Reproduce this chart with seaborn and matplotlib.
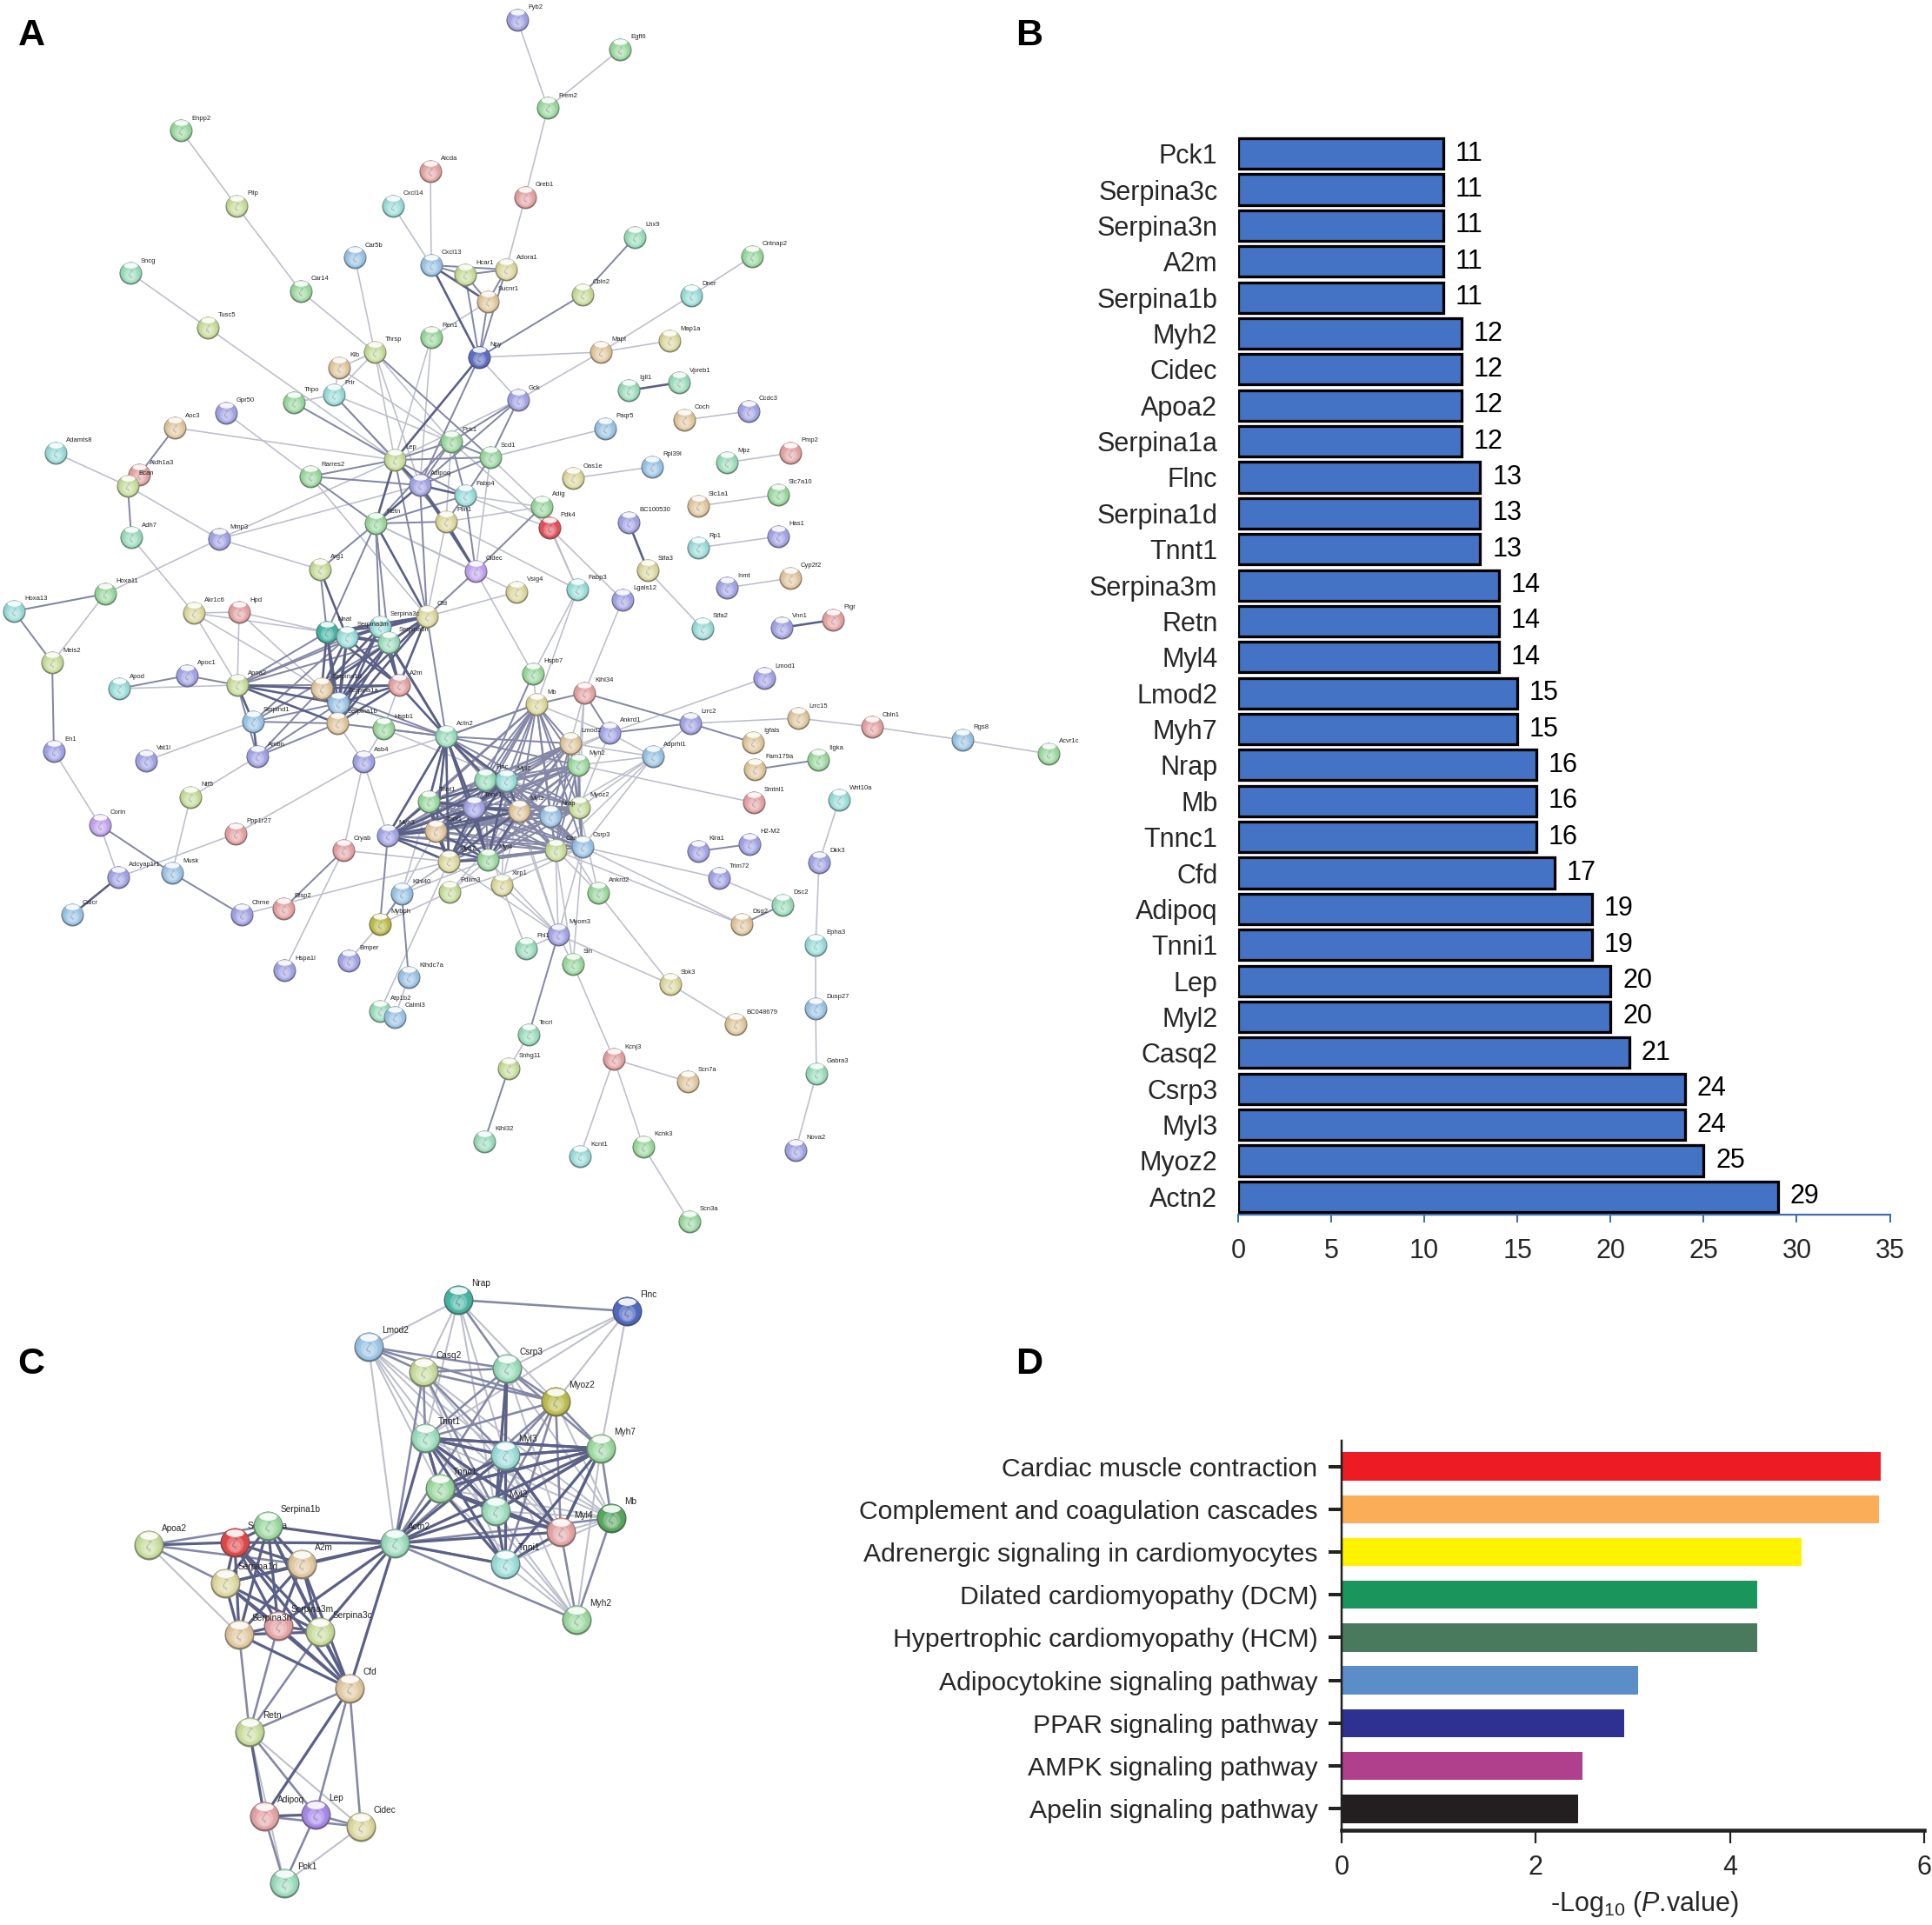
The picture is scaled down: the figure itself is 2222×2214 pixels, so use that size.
from itertools import combinations
import matplotlib
matplotlib.use("Agg")
import matplotlib.pyplot as plt
from matplotlib.collections import LineCollection
from matplotlib.colors import to_rgb
from matplotlib.path import Path
from matplotlib.transforms import Affine2D
import seaborn as sns

# panel B - node degree
degree_genes = ["Pck1", "Serpina3c", "Serpina3n", "A2m", "Serpina1b", "Myh2", "Cidec", "Apoa2", "Serpina1a", "Flnc",
                "Serpina1d", "Tnnt1", "Serpina3m", "Retn", "Myl4", "Lmod2", "Myh7", "Nrap", "Mb", "Tnnc1",
                "Cfd", "Adipoq", "Tnni1", "Lep", "Myl2", "Casq2", "Csrp3", "Myl3", "Myoz2", "Actn2"]
degree_vals = [11, 11, 11, 11, 11, 12, 12, 12, 12, 13,
               13, 13, 14, 14, 14, 15, 15, 16, 16, 16,
               17, 19, 19, 20, 20, 21, 24, 24, 25, 29]
degree_ticks = [0, 5, 10, 15, 20, 25, 30, 35]

# panel D - pathways
pathways = ["Cardiac muscle contraction", "Complement and coagulation cascades",
            "Adrenergic signaling in cardiomyocytes", "Dilated cardiomyopathy (DCM)",
            "Hypertrophic cardiomyopathy (HCM)", "Adipocytokine signaling pathway",
            "PPAR signaling pathway", "AMPK signaling pathway", "Apelin signaling pathway"]
pathway_vals = [5.55, 5.53, 4.74, 4.28, 4.28, 3.05, 2.91, 2.48, 2.44]
pathway_colors = ["#ed1c24", "#fbad58", "#fff200", "#1a955c", "#4a7a5e", "#5b8ec9", "#2e3192", "#b03f8c", "#231f20"]
pathway_ticks = [0, 2, 4, 6]

tints = {"G": "#9cd8a0", "LG": "#c8dc9c", "B": "#a4a4e4", "C": "#9cdcd8", "BL": "#9cc4e4", "T": "#e0c8a0",
         "R": "#e4a4a4", "Y": "#dcd8a0", "P": "#c0a4ec", "M": "#9cdcbc", "RR": "#e2505c", "DB": "#5c6cc0",
         "TE": "#48b4a4", "OL": "#bcbc50", "DG": "#58a860", "VB": "#5068c0", "PU": "#a888e8", "RE": "#e04848"}

# panel A - nodes in pixels
a_names = ["Fyb2", "Enpp2", "Pllp", "Aicda", "Greb1", "Cxcl14", "Car5b", "Sncg",
           "Cxcl13", "Hcar1", "Adora1", "Car14", "Sucnr1", "Tusc5", "Ren1", "Npy",
           "Thrsp", "Klb", "Prlr", "Thpo", "Gpr50", "Gck", "Aoc3", "Adamts8",
           "Pck1", "Scd1", "Lep", "Aldh1a3", "Bcan", "Rarres2", "Adipoq", "Fabp4",
           "Retn", "Plin1", "Adh7", "Mmp3", "Cidec", "Arg1", "Vsig4", "Hoxa11",
           "Hoxa13", "Akr1c6", "Hpd", "Cfd", "Egfl6", "Frem2", "Lhx9", "Cntnap2",
           "Cbln2", "Dner", "Mapt", "Map1a", "Igll1", "Vpreb1", "Coch", "Ccdc3",
           "Paqr5", "Mpz", "Pmp2", "Rpl39l", "Oas1e", "Slc1a1", "Slc7a10", "Adig",
           "Pdk4", "BC100530", "Rp1", "Has1", "Stfa3", "Inmt", "Cyp2f2", "Fabp3",
           "Lgals12", "Stfa2", "Vnn1", "Pigr", "Meis2", "Apod", "Apoc1", "Apoa2",
           "Nnat", "Serpina3m", "Serpina3c", "Serpina3n", "Serpina1d", "A2m", "Serpina1a", "Serpina1b",
           "Serpind1", "Hspb1", "Actn2", "En1", "Ambn", "Vat1l", "Asb4", "Ntf5",
           "Corin", "Ppp1r27", "Cryab", "Myh3", "Adcyap1r1", "Musk", "Calcr", "Chrne",
           "Bfsp2", "Hspa1l", "Bmper", "Klhdc7a", "Atp1b2", "Calml3", "Klhl32", "Snhg11",
           "Tecrl", "Hspb7", "Mb", "Klhl34", "Lmod1", "Lrrc2", "Ankrd1", "Lmod2",
           "Igfals", "Adprhl1", "Fam179a", "Myh2", "Flnc", "Myl2", "Smtnl1", "Tnnt1",
           "Tnnc1", "Myl3", "Nrap", "Myoz2", "Casq2", "Csrp3", "Tnni1", "Myh7",
           "Myl4", "Xirp1", "Pdlim3", "Klhl40", "Ankrd2", "Mybph", "Myom3", "Fhl1",
           "Sln", "Klra1", "H2-M2", "Trim72", "Dsg2", "Dsc2", "Sbk3", "BC048679",
           "Wnt10a", "Dkk3", "Epha3", "Dusp27", "Gabra3", "Nova2", "Cbln1", "Rgs8",
           "Acvr1c", "Lrrc15", "Kcnj3", "Scn7a", "Kcnk3", "Kcnt1", "Scn3a", "Itgka"]
a_x = [595, 208, 272, 495, 604, 452, 408, 150,
       496, 535, 582, 346, 561, 239, 496, 551,
       431, 390, 384, 338, 260, 596, 201, 64,
       519, 564, 454, 160, 147, 357, 483, 535,
       432, 513, 151, 252, 547, 368, 594, 121,
       16, 223, 275, 491, 713, 630, 730, 865,
       670, 795, 691, 770, 723, 781, 787, 861,
       696, 836, 909, 750, 659, 803, 895, 623,
       632, 723, 803, 895, 745, 836, 909, 664,
       716, 808, 899, 958, 60, 137, 215, 273,
       376, 399, 437, 447, 370, 459, 389, 388,
       291, 441, 513, 62, 296, 168, 418, 219,
       115, 271, 395, 446, 136, 198, 83, 278,
       326, 327, 401, 470, 437, 454, 557, 585,
       608, 613, 617, 672, 879, 794, 701, 656,
       866, 751, 868, 665, 558, 582, 867, 493,
       545, 597, 633, 666, 639, 670, 501, 516,
       561, 577, 517, 462, 688, 437, 642, 605,
       659, 803, 862, 827, 853, 900, 771, 846,
       965, 942, 938, 938, 939, 915, 1003, 1107,
       1206, 918, 706, 791, 740, 667, 793, 941]
a_y = [23, 150, 237, 197, 227, 237, 296, 314,
       305, 316, 310, 335, 347, 377, 388, 411,
       405, 423, 454, 463, 475, 460, 492, 521,
       508, 526, 529, 546, 559, 548, 558, 570,
       602, 600, 618, 620, 657, 655, 681, 683,
       703, 705, 704, 709, 57, 124, 273, 295,
       339, 340, 405, 392, 449, 440, 483, 473,
       493, 532, 521, 537, 550, 582, 569, 583,
       607, 601, 630, 617, 656, 676, 665, 678,
       690, 723, 722, 713, 762, 792, 777, 788,
       727, 733, 721, 739, 792, 788, 809, 832,
       830, 838, 847, 864, 870, 875, 876, 917,
       949, 959, 978, 961, 1009, 1004, 1052, 1052,
       1045, 1116, 1105, 1124, 1163, 1170, 1313, 1229,
       1190, 775, 810, 797, 780, 832, 843, 855,
       854, 870, 885, 880, 897, 898, 923, 922,
       929, 933, 939, 929, 978, 974, 956, 991,
       989, 1018, 1026, 1028, 1027, 1063, 1075, 1091,
       1109, 979, 971, 1010, 1063, 1041, 1132, 1178,
       920, 992, 1087, 1160, 1235, 1323, 836, 851,
       867, 826, 1218, 1244, 1319, 1330, 1405, 874]
a_tint = """B G LG R R C BL M
            BL LG Y G T LG G DB
            LG T C G B B T C
            G G LG R LG G B C
            G Y M B P LG Y G
            C Y R Y G G M G
            LG C T Y M M T B
            BL M R BL Y T G G
            RR B C B Y B T C
            B C B R LG C B LG
            TE C C M T R BL T
            BL G M B B B B LG
            P R R B B BL BL B
            R B B BL M BL M LG
            M G Y R B B B T
            T BL T G M C R G
            B T BL LG LG BL T Y
            G Y LG BL G OL B M
            G B B B T M Y T
            C B C BL M B R BL
            G T R T G C G G""".split()

a_thin = """Fyb2:Frem2 Egfl6:Frem2 Frem2:Greb1 Greb1:Adora1 Enpp2:Pllp Pllp:Car14 Car14:Thrsp Car5b:Thrsp Sncg:Tusc5
Tusc5:Lep Aicda:Cxcl13 Cxcl14:Cxcl13 Ren1:Sucnr1 Ren1:Lep Ren1:Adipoq Npy:Gck Npy:Mapt Mapt:Map1a Mapt:Dner Mapt:Gck
Dner:Cntnap2 Coch:Ccdc3 Mpz:Pmp2 Oas1e:Rpl39l Slc1a1:Slc7a10 Rp1:Has1 Inmt:Cyp2f2 Stfa3:Stfa2 Paqr5:Scd1 Thrsp:Klb
Thrsp:Prlr Thrsp:Lep Thrsp:Pck1 Thrsp:Adipoq Klb:Prlr Klb:Pck1 Prlr:Adipoq Prlr:Pck1 Thpo:Prlr Gpr50:Rarres2 Aoc3:Lep
Adamts8:Bcan Aldh1a3:Bcan Bcan:Mmp3 Adh7:Akr1c6 Mmp3:Lep Mmp3:Adipoq Mmp3:Arg1 Mmp3:Hoxa11 Hoxa11:Hoxa13 Hoxa11:Meis2
En1:Corin Corin:Adcyap1r1 Adcyap1r1:Ppp1r27 Musk:Ntf5 Ntf5:Ambn Chrne:Myh7 Ppp1r27:Asb4 Hspa1l:Cryab Cryab:Asb4
Cryab:Myh7 Asb4:Myh3 Asb4:Actn2 Rarres2:Cfd Retn:Cidec Retn:Vsig4 Lep:Gck Scd1:Adig Scd1:Cidec Plin1:Adig Plin1:Cfd
Pck1:Pdk4 Pck1:Plin1 Fabp4:Adig Fabp4:Pdk4 Vsig4:Cfd Cidec:Hspb7 Pdk4:Fabp3 Adig:Fabp3 Plin1:Fabp3 Pdk4:Lgals12
Fabp3:Mb Fabp3:Hspb7 Lgals12:Klhl34 Apod:Apoa2 Serpind1:Vat1l Akr1c6:Hpd Akr1c6:Serpina1d Akr1c6:Apoa2 Akr1c6:Nnat
Hpd:Apoa2 Hpd:Serpina1a Hpd:Nnat Hspb1:Serpina1b Hspb1:Asb4 Hspb1:Myoz2 A2m:Hspb1 A2m:Cfd Serpina1b:Asb4
Lmod1:Ankrd1 Lrrc2:Lrrc15 Lrrc15:Cbln1 Cbln1:Rgs8 Rgs8:Acvr1c Myh2:Smtnl1 Lrrc2:Adprhl1 Csrp3:Trim72 Trim72:Dsc2
Csrp3:Dsg2 Casq2:Dsg2 Ankrd2:Sbk3 Sbk3:BC048679 Myom3:Sbk3 Sln:Kcnj3 Kcnj3:Scn7a Kcnj3:Kcnk3 Kcnj3:Kcnt1 Kcnk3:Scn3a
Wnt10a:Dkk3 Dkk3:Epha3 Epha3:Dusp27 Dusp27:Gabra3 Gabra3:Nova2 Fhl1:Xirp1 Fhl1:Myom3 Sln:Myom3 Sln:Csrp3 Sln:Casq2
Atp1b2:Myh7 Atp1b2:Calml3 Calml3:Klhdc7a Tecrl:Snhg11 Mybph:Pdlim3 Mybph:Bmper Mb:Hspb7 Klhl34:Lmod2 Klhl34:Myh2
Klhl34:Myoz2 Adprhl1:Ankrd1 Adprhl1:Lmod2 Adprhl1:Myh2 Adprhl1:Myoz2 Adprhl1:Nrap Adprhl1:Csrp3 Adprhl1:Casq2
Xirp1:Myl3 Xirp1:Tnnc1 Xirp1:Myl2 Xirp1:Csrp3 Pdlim3:Myl4 Pdlim3:Csrp3 Pdlim3:Myl3 Ankrd2:Myl3 Ankrd2:Myoz2 Ankrd2:Nrap
Myom3:Myl3 Myom3:Myl2 Myom3:Myh7 Myom3:Casq2 Myom3:Csrp3 Myom3:Myl4 Myom3:Xirp1 Ankrd1:Mb Ankrd1:Myl2 Ankrd1:Myoz2
Ankrd1:Flnc Klhl40:Myl4 Klhl40:Myh7 Klhl40:Myl3 Klhl40:Tnnt1 Klhl40:Tnni1""".split()
a_mid = """Cxcl13:Hcar1 Cxcl13:Adora1 Hcar1:Adora1 Hcar1:Sucnr1 Adora1:Sucnr1 Hcar1:Npy Adora1:Npy Sucnr1:Npy Npy:Adipoq Npy:Cbln2
Cbln2:Lhx9 Thrsp:Scd1 Prlr:Lep Thpo:Lep Aoc3:Aldh1a3 Bcan:Adh7 Hoxa13:Meis2 Meis2:En1 Corin:Musk Musk:Chrne Bfsp2:Cryab
Rarres2:Lep Rarres2:Adipoq Rarres2:Retn Retn:Pck1 Retn:Plin1 Retn:Fabp4 Retn:Arg1 Retn:Serpina3c Retn:Serpina3n
Retn:Nnat Arg1:Nnat Lep:Pck1 Lep:Scd1 Lep:Fabp4 Lep:Plin1 Lep:Cfd Adipoq:Pck1 Adipoq:Scd1 Adipoq:Cfd Adipoq:Gck
Pck1:Scd1 Pck1:Fabp4 Pck1:Gck Scd1:Fabp4 Scd1:Gck Fabp4:Plin1 Fabp4:Cidec Cidec:Adig Cidec:Cfd Apod:Apoc1 Apoc1:Apoa2
Apoa2:Ambn Apoa2:A2m Apoa2:Serpina3c Apoa2:Serpina3n Apoa2:Serpina3m Apoa2:Nnat Ambn:Serpina1a Ambn:Serpina1b
Ambn:Serpina1d Actn2:Hspb1 Actn2:Cfd Actn2:Serpina1b Actn2:Serpina1a Actn2:Serpina1d Mb:Klhl34 Mb:Actn2 Hspb7:Flnc
Lrrc2:Klhl34 Lrrc2:Ankrd1 Lrrc2:Igfals Fam179a:Itgka H2-M2:Klra1 Dsg2:Dsc2 Tecrl:Myom3 Snhg11:Klhl32 Mybph:Myh3
Mybph:Klhl40 Klhl40:Klhdc7a Klhl34:Ankrd1 Hoxa13:Hoxa11""".split()
a_thick = """Cxcl13:Sucnr1 Cxcl13:Npy Npy:Lep Igll1:Vpreb1 Vnn1:Pigr BC100530:Stfa3 Adcyap1r1:Calcr Retn:Lep Retn:Adipoq Retn:Cfd
Lep:Adipoq Adipoq:Fabp4 Adipoq:Plin1 Adipoq:Cidec Plin1:Cidec Arg1:Serpina3m Apoa2:Serpina1d Apoa2:Serpina1a
Apoa2:Serpina1b Apoa2:Serpind1 Serpind1:Ambn Actn2:A2m Actn2:Serpina3n Actn2:Serpina3c""".split()
a_mid_groups = [["Actn2", "Flnc", "Myl2", "Tnnt1", "Tnnc1", "Myl3", "Nrap", "Myoz2", "Casq2", "Csrp3",
                 "Tnni1", "Myh7", "Myl4", "Myh2", "Mb", "Lmod2", "Myh3"],
                ["Serpind1", "Serpina1a", "Serpina1b", "Serpina3m", "Serpina3n"]]
a_thick_groups = [["Actn2", "Tnnt1", "Tnnc1", "Myl3", "Myl2", "Tnni1", "Myl4", "Myh7", "Myh3"],
                  ["Serpina1a", "Serpina1b", "Serpina1d", "A2m", "Serpina3m", "Serpina3n", "Serpina3c", "Nnat", "Cfd"]]

# panel C - nodes and edges
c_names = ["Nrap", "Flnc", "Lmod2", "Casq2", "Csrp3", "Myoz2", "Tnnt1", "Myl3", "Myh7", "Tnnc1",
           "Myl2", "Mb", "Myl4", "Tnni1", "Myh2", "Actn2", "Apoa2", "Serpina1a", "Serpina1b", "A2m",
           "Serpina1d", "Serpina3n", "Serpina3m", "Serpina3c", "Cfd", "Retn", "Adipoq", "Lep", "Cidec", "Pck1"]
c_x = [527, 721, 424, 487, 583, 639, 489, 581, 691, 506,
       570, 703, 645, 581, 663, 454, 171, 270, 308, 347,
       259, 275, 320, 368, 402, 287, 304, 363, 415, 327]
c_y = [1495, 1508, 1549, 1578, 1574, 1612, 1654, 1674, 1666, 1712,
       1738, 1746, 1762, 1799, 1863, 1775, 1777, 1774, 1755, 1799,
       1821, 1880, 1870, 1877, 1942, 1992, 2089, 2087, 2101, 2166]
c_tint = """TE VB BL LG M OL M C G G
            M DG R C G M LG RE G T
            Y T R LG T LG R PU Y M""".split()

c_thin = """Flnc:Csrp3 Flnc:Myoz2 Flnc:Myh7 Flnc:Tnnt1 Nrap:Lmod2 Nrap:Casq2 Nrap:Tnnt1 Nrap:Myl3 Nrap:Myl2 Nrap:Myoz2 Lmod2:Actn2
Lmod2:Tnnt1 Lmod2:Myl3 Lmod2:Tnnc1 Lmod2:Myl2 Lmod2:Myl4 Casq2:Myl4 Casq2:Mb Casq2:Tnni1 Csrp3:Tnni1 Csrp3:Myl4 Csrp3:Mb
Mb:Tnnt1 Mb:Myl3 Mb:Tnnc1 Mb:Myl2 Mb:Tnni1 Mb:Myl4 Mb:Myoz2 Myh2:Tnnt1 Myh2:Tnnc1 Myh2:Myl3 Myh2:Myl2 Myh2:Tnni1 Myh2:Myh7
Retn:Cidec Apoa2:Serpina3n Apoa2:Serpina1a Retn:Pck1 Cidec:Pck1""".split()
c_mid = """Nrap:Flnc Nrap:Csrp3 Lmod2:Casq2 Lmod2:Csrp3 Lmod2:Myoz2 Casq2:Actn2 Casq2:Csrp3 Casq2:Myoz2 Casq2:Tnnt1 Casq2:Myl3 Casq2:Myl2
Csrp3:Myoz2 Csrp3:Myh7 Myoz2:Myh7 Myoz2:Tnnt1 Myoz2:Myl3 Myoz2:Myl2 Myoz2:Myl4 Myoz2:Tnni1 Myoz2:Actn2 Csrp3:Tnnt1 Csrp3:Actn2
Myh2:Actn2 Myh2:Myl4 Mb:Myh2 Mb:Myh7 Mb:Actn2 Tnni1:Actn2 Apoa2:Serpina1d Apoa2:Serpina1b Apoa2:A2m Cfd:Lep Cfd:Cidec
Retn:Serpina3n Retn:Serpina3m Retn:Serpina3c Retn:Cfd Retn:Lep Lep:Pck1 Adipoq:Pck1 Lep:Cidec Adipoq:Cidec""".split()
c_thick = """Apoa2:Serpina1a Retn:Adipoq Cfd:Adipoq Adipoq:Lep Actn2:A2m Actn2:Serpina1b Actn2:Serpina1a Actn2:Serpina3m
Actn2:Serpina3c Actn2:Serpina1d Actn2:Cfd Actn2:Tnni1 Csrp3:Myl3 Csrp3:Myl2""".split()
c_thick_groups = [["Actn2", "Tnnt1", "Myl3", "Tnnc1", "Myl2", "Myl4", "Myh7"],
                  ["Tnnt1", "Myl3", "Tnnc1", "Myl2", "Tnni1", "Myl4", "Myh7"],
                  ["Serpina1a", "Serpina1b", "A2m", "Serpina1d", "Serpina3n", "Serpina3m", "Serpina3c", "Cfd"]]

hidden_labels_a = ["Casq2"]
hidden_labels_c = ["Serpina1a"]

W, H = 2222, 2214
PX = 72 / 100  # one picture pixel in points at dpi 100


def px_axes(fig, left, top, right, bottom):
    return fig.add_axes([left / W, 1 - bottom / H, (right - left) / W, (bottom - top) / H])


def mix(color, other, amount):
    c = to_rgb(color)
    o = to_rgb(other)
    return tuple(c[i] * (1 - amount) + o[i] * amount for i in range(3))


shine = Path.unit_circle().transformed(Affine2D().scale(1, 0.42))


def draw_edges(ax, pos, pairs, groups, color, width, z):
    segs = []
    for p in pairs:
        a, b = p.split(":")
        segs.append([pos[a], pos[b]])
    for g in groups:
        for a, b in combinations(g, 2):
            segs.append([pos[a], pos[b]])
    ax.add_collection(LineCollection(segs, colors=color, linewidths=width * PX, zorder=z, capstyle="round"))


def draw_network(ax, names, xs, ys, tint_codes, r, label_size, dx, dy, hidden):
    colors = [tints[k] for k in tint_codes]
    sns.scatterplot(x=xs, y=ys, hue=names, palette=dict(zip(names, colors)), s=(1.9 * r * PX) ** 2,
                    linewidth=0, legend=False, ax=ax, zorder=2.5)
    for i, (name, x, y, c) in enumerate(zip(names, xs, ys, colors, strict=True)):
        z = 3 + i * 0.001
        ax.scatter(x, y, s=(2 * r * PX) ** 2, color=mix(c, "#404040", 0.55), linewidth=0, zorder=z)
        ax.scatter(x, y - 0.05 * r, s=(1.84 * r * PX) ** 2, color=mix(c, "#606060", 0.12), linewidth=0, zorder=z)
        ax.scatter(x, y + 0.04 * r, s=(1.56 * r * PX) ** 2, color=c, linewidth=0, zorder=z)
        ax.scatter(x, y + 0.14 * r, s=(1.15 * r * PX) ** 2, color=mix(c, "white", 0.25), linewidth=0, zorder=z)
        ax.scatter(x, y + 0.22 * r, s=(0.75 * r * PX) ** 2, color=mix(c, "white", 0.42), linewidth=0, zorder=z)
        ax.scatter(x, y + 0.05 * r, s=(0.75 * r * PX) ** 2, marker="$\\zeta$", color=mix(c, "#203060", 0.4),
                   alpha=0.55, linewidth=0, zorder=z)
        ax.scatter(x, y - 0.66 * r, s=(1.2 * r * PX) ** 2, marker=shine, color="white", alpha=0.9,
                   linewidth=0, zorder=z)
        ax.text(x + dx, y + dy, name, fontsize=label_size, color="#222222", ha="left", va="center",
                zorder=2.8 if name in hidden else 4)


sns.set_theme(style="white")
plt.rcParams["font.family"] = ["Liberation Sans", "DejaVu Sans"]
plt.rcParams["mathtext.fontset"] = "custom"
plt.rcParams["mathtext.rm"] = "Liberation Sans"
plt.rcParams["mathtext.it"] = "Liberation Sans:italic"

fig = plt.figure(figsize=(W / 100, H / 100), dpi=100, facecolor="white")

# networks live on one full-size axes in picture pixels
net = fig.add_axes([0, 0, 1, 1])
a_pos = {n: (x, y) for n, x, y in zip(a_names, a_x, a_y, strict=True)}
c_pos = {n: (x, y) for n, x, y in zip(c_names, c_x, c_y, strict=True)}

thin_col, mid_col, thick_col = "#bcbecc", "#8488a6", "#5a6086"
draw_edges(net, a_pos, a_thin, [], thin_col, 1.6, 1.0)
draw_edges(net, a_pos, a_mid, a_mid_groups, mid_col, 2.0, 1.1)
draw_edges(net, a_pos, a_thick, a_thick_groups, thick_col, 2.6, 1.2)
draw_edges(net, c_pos, c_thin, [], thin_col, 2.0, 1.0)
draw_edges(net, c_pos, c_mid, [], mid_col, 2.6, 1.1)
draw_edges(net, c_pos, c_thick, c_thick_groups, thick_col, 3.2, 1.2)
draw_network(net, a_names, a_x, a_y, a_tint, 13, 5.5, 12, -14, hidden_labels_a)
draw_network(net, c_names, c_x, c_y, c_tint, 17, 7.3, 15, -19, hidden_labels_c)
net.set_xlim(0, W)
net.set_ylim(H, 0)
net.set_axis_off()

for letter, lx, ly in zip(["A", "B", "C", "D"], [36, 1184, 36, 1184], [41, 41, 1569, 1569]):
    net.text(lx, ly, letter, fontsize=31, fontweight="bold", color="black", ha="center", va="center")

# panel B
blue = "#4472c4"
axb = px_axes(fig, 1424, 156, 2173.5, 1397)
sns.barplot(x=degree_vals, y=degree_genes, orient="h", color=blue, saturation=1, width=0.85,
            edgecolor="black", linewidth=2.5 * PX * 1.3, ax=axb)
axb.bar_label(axb.containers[0], fmt="%d", padding=10, fontsize=22, color="black")
axb.set_xlim(0, 35)
axb.set_ylim(29.5, -0.5)
axb.set_xticks(degree_ticks)
for s in ["top", "right", "left"]:
    axb.spines[s].set_visible(False)
axb.spines["bottom"].set_color("#3f6cb5")
axb.spines["bottom"].set_linewidth(2.2 * PX)
axb.tick_params(axis="x", bottom=True, length=9 * PX, width=2 * PX, color="#3f6cb5", labelsize=22, pad=13)
axb.tick_params(axis="y", left=False, labelsize=22, pad=11)

# panel D
axd = px_axes(fig, 1543, 1657, 2213, 2105)
sns.barplot(x=pathway_vals, y=pathways, orient="h", hue=pathways, palette=pathway_colors, saturation=1,
            width=0.66, legend=False, linewidth=0, ax=axd)
axd.set_xlim(0, 6)
axd.set_ylim(8.5, -0.6)
axd.set_xticks(pathway_ticks)
for s in ["top", "right"]:
    axd.spines[s].set_visible(False)
axd.spines["left"].set_color("#222222")
axd.spines["left"].set_linewidth(2.5 * PX)
axd.spines["bottom"].set_color("#222222")
axd.spines["bottom"].set_linewidth(4.5 * PX)
axd.tick_params(axis="x", bottom=True, length=15 * PX, width=2.2 * PX, color="#222222", labelsize=22, pad=9)
axd.tick_params(axis="y", left=True, length=15 * PX, width=4 * PX, color="#222222", labelsize=21.7, pad=9)
axd.set_xlabel("-Log$_{10}$ ($\\mathit{P}$.value)", fontsize=22, va="center")
axd.xaxis.set_label_coords((1891 - 1543) / 670, -(2190 - 2105) / 448)

fig.savefig("out.png", dpi=100, facecolor="white")
